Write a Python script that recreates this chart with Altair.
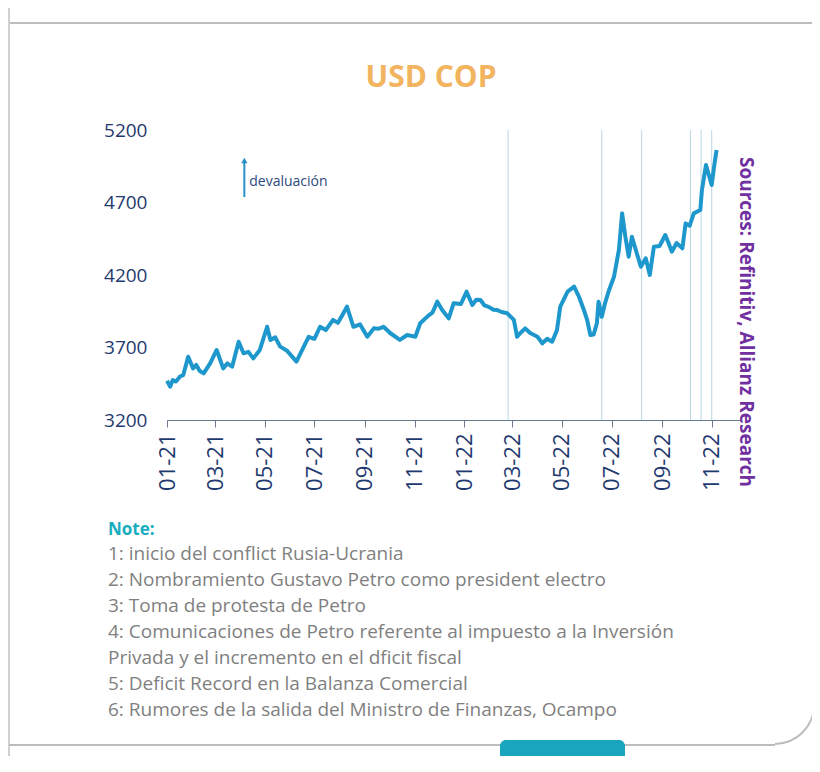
import altair as alt
import pandas as pd

# ---------------- data ----------------
dates = [
    "2021-01-01", "2021-01-05", "2021-01-08", "2021-01-12", "2021-01-17", "2021-01-21",
    "2021-01-27", "2021-02-02", "2021-02-06", "2021-02-10", "2021-02-15", "2021-02-23",
    "2021-03-03", "2021-03-07", "2021-03-11", "2021-03-16", "2021-03-22", "2021-03-30",
    "2021-04-05", "2021-04-11", "2021-04-17", "2021-04-25", "2021-05-04", "2021-05-08",
    "2021-05-14", "2021-05-20", "2021-05-28", "2021-06-09", "2021-06-18", "2021-06-24",
    "2021-07-01", "2021-07-08", "2021-07-15", "2021-07-24", "2021-07-30", "2021-08-05",
    "2021-08-10", "2021-08-18", "2021-08-26", "2021-09-04", "2021-09-12", "2021-09-18",
    "2021-09-24", "2021-10-02", "2021-10-14", "2021-10-23", "2021-11-02", "2021-11-08",
    "2021-11-18", "2021-11-23", "2021-11-29", "2021-12-05", "2021-12-13", "2021-12-19",
    "2021-12-28", "2022-01-04", "2022-01-11", "2022-01-16", "2022-01-21", "2022-01-26",
    "2022-01-31", "2022-02-06", "2022-02-10", "2022-02-16", "2022-02-23", "2022-03-03",
    "2022-03-07", "2022-03-11", "2022-03-17", "2022-03-23", "2022-04-01", "2022-04-07",
    "2022-04-13", "2022-04-19", "2022-04-25", "2022-04-29", "2022-05-08", "2022-05-16",
    "2022-05-22", "2022-05-28", "2022-06-01", "2022-06-05", "2022-06-09", "2022-06-13",
    "2022-06-15", "2022-06-19", "2022-06-23", "2022-06-28", "2022-07-04", "2022-07-10",
    "2022-07-14", "2022-07-18", "2022-07-22", "2022-07-26", "2022-08-01", "2022-08-06",
    "2022-08-12", "2022-08-17", "2022-08-22", "2022-08-29", "2022-09-05", "2022-09-09",
    "2022-09-13", "2022-09-19", "2022-09-26", "2022-09-30", "2022-10-05", "2022-10-10",
    "2022-10-18", "2022-10-20", "2022-10-25", "2022-10-28", "2022-11-01", "2022-11-04",
    "2022-11-07",
]
usdcop = [
    3470, 3430, 3475, 3465, 3500, 3510,
    3636, 3556, 3580, 3540, 3522, 3591,
    3683, 3620, 3556, 3590, 3568, 3740,
    3660, 3670, 3625, 3683, 3843, 3752,
    3770, 3706, 3680, 3603, 3706, 3774,
    3760, 3843, 3820, 3890, 3870, 3930,
    3982, 3843, 3860, 3774, 3832, 3830,
    3843, 3800, 3752, 3786, 3774, 3867,
    3920, 3940, 4016, 3959, 3901, 4005,
    4000, 4085, 3993, 4030, 4028, 3990,
    3980, 3960, 3959, 3945, 3936, 3890,
    3774, 3800, 3832, 3800, 3774, 3729,
    3760, 3740, 3820, 3982, 4085, 4120,
    4050, 3959, 3890, 3786, 3790, 3867,
    4016, 3912, 4005, 4097, 4188, 4372,
    4625, 4464, 4326, 4464, 4350, 4257,
    4315, 4200, 4395, 4400, 4476, 4420,
    4361, 4420, 4384, 4556, 4540, 4625,
    4648, 4786, 4959, 4900, 4821, 4950,
    5062,
]
event_dates = ["2022-02-24", "2022-06-19", "2022-08-07", "2022-10-06", "2022-10-19", "2022-11-01"]
tick_months = [(2021, 1), (2021, 3), (2021, 5), (2021, 7), (2021, 9), (2021, 11),
               (2022, 1), (2022, 3), (2022, 5), (2022, 7), (2022, 9), (2022, 11)]
y_ticks = [3200, 3700, 4200, 4700, 5200]
y_domain = [3200, 5200]
x_domain = [(2021, 1, 1), (2022, 12, 7)]
title_text = "USD COP"
source_text = "Sources: Refinitiv, Allianz Research"
arrow_date = ["2021-04-06"]
arrow_from = [4738]
arrow_to = [4990]
arrow_label = "devaluación"
arrow_label_date = ["2021-04-12"]
arrow_label_value = [4840]
note_title = "Note:"
notes = [
    "1: inicio del conflict Rusia-Ucrania",
    "2: Nombramiento Gustavo Petro como president electro",
    "3: Toma de protesta de Petro",
    "4: Comunicaciones de Petro referente al impuesto a la Inversión",
    "Privada y el incremento en el dficit fiscal",
    "5: Deficit Record en la Balanza Comercial",
    "6: Rumores de la salida del Ministro de Finanzas, Ocampo",
]

# ---------------- tables ----------------
df = pd.DataFrame({"date": pd.to_datetime(dates), "usdcop": usdcop})
ev = pd.DataFrame({"date": pd.to_datetime(event_dates)})
arrow_df = pd.DataFrame({"date": pd.to_datetime(arrow_date), "y0": arrow_from, "y1": arrow_to})
label_df = pd.DataFrame({"date": pd.to_datetime(arrow_label_date), "v": arrow_label_value,
                         "t": [arrow_label]})
one = pd.DataFrame({"k": [0]})

FONT = "Open Sans"
NAVY = "#1F3A6E"
LINE = "#1E98CC"

x_scale = alt.Scale(domain=[alt.DateTime(year=a, month=b, date=c) for a, b, c in x_domain])
y_scale = alt.Scale(domain=y_domain, nice=False, zero=False)

x_axis = alt.Axis(
    values=[alt.DateTime(year=a, month=b, date=1) for a, b in tick_months],
    format="%m-%y", labelAngle=-90, labelAlign="right", labelBaseline="middle",
    labelPadding=6, tickSize=7, tickColor="#6A7A8E", domainColor="#6A7A8E",
    domainWidth=1.2, labelFontSize=22, labelFont=FONT, labelColor=NAVY,
    title=None, grid=False, labelFlush=False, labelOverlap=False,
)
y_axis = alt.Axis(
    values=y_ticks, format="d", title=None, grid=False, domain=False, ticks=False,
    labelPadding=20, labelFontSize=19, labelFont=FONT, labelColor=NAVY,
)

base_x = alt.X("date:T", scale=x_scale, axis=x_axis)

events = alt.Chart(ev).mark_rule(color="#B9D7E2", strokeWidth=1).encode(
    x=alt.X("date:T", scale=x_scale),
    y=alt.value(0), y2=alt.value(290),
)

line = alt.Chart(df).mark_line(color=LINE, strokeWidth=4, strokeJoin="round").encode(
    x=base_x,
    y=alt.Y("usdcop:Q", scale=y_scale, axis=y_axis),
)

arrow = alt.Chart(arrow_df).mark_rule(color="#2A8FC7", strokeWidth=2).encode(
    x=alt.X("date:T", scale=x_scale),
    y=alt.Y("y0:Q", scale=y_scale),
    y2="y1:Q",
)
arrow_head = alt.Chart(arrow_df).mark_point(
    shape="triangle-up", filled=True, color="#2A8FC7", size=40, opacity=1
).encode(
    x=alt.X("date:T", scale=x_scale),
    y=alt.Y("y1:Q", scale=y_scale),
)
arrow_text = alt.Chart(label_df).mark_text(
    align="left", baseline="middle", font=FONT, fontSize=14, color="#2E4A7D"
).encode(
    x=alt.X("date:T", scale=x_scale),
    y=alt.Y("v:Q", scale=y_scale),
    text="t:N",
)

title = alt.Chart(one).mark_text(
    font=FONT, fontSize=30, fontWeight="bold", color="#F2B45E", align="center", baseline="middle"
).encode(x=alt.value(264), y=alt.value(-52), text=alt.value(title_text))

source = alt.Chart(one).mark_text(
    font=FONT, fontSize=19, fontWeight="bold", color="#7030A0", angle=90,
    align="center", baseline="middle",
).encode(x=alt.value(579), y=alt.value(192), text=alt.value(source_text))

note_head = alt.Chart(one).mark_text(
    font=FONT, fontSize=17, fontWeight="bold", color="#19ADC0", align="left", baseline="middle"
).encode(x=alt.value(-59), y=alt.value(400), text=alt.value(note_title))

note_body = alt.Chart(one).mark_text(
    font=FONT, fontSize=19, color="#7F7F7F", align="left", baseline="alphabetic",
    lineBreak="\n", lineHeight=26,
).encode(x=alt.value(-59), y=alt.value(430), text=alt.value("\n".join(notes)))

# decorative card frame
frame_top = alt.Chart(one).mark_rule(color="#BDBDBD", strokeWidth=2).encode(
    x=alt.value(-159), x2=alt.value(660), y=alt.value(-107))
frame_left = alt.Chart(one).mark_rule(color="#D0D0D0", strokeWidth=2).encode(
    x=alt.value(-158), y=alt.value(-130), y2=alt.value(640))
frame_bottom = alt.Chart(one).mark_rule(color="#BDBDBD", strokeWidth=2).encode(
    x=alt.value(-158), x2=alt.value(608), y=alt.value(615))
frame_corner = alt.Chart(one).mark_arc(
    color="#BDBDBD", theta=1.5708, theta2=3.1416, radius=40, radius2=38
).encode(x=alt.value(608), y=alt.value(575))
tab = alt.Chart(one).mark_rect(color="#1AA5BE", cornerRadius=6).encode(
    x=alt.value(333), x2=alt.value(458), y=alt.value(610), y2=alt.value(650))

chart = alt.layer(
    frame_top, frame_left, frame_bottom, frame_corner, tab,
    events, line, arrow, arrow_head, arrow_text, title, source, note_head, note_body,
).properties(
    width=574, height=290,
    autosize=alt.AutoSizeParams(type="none"),
    padding={"left": 159, "top": 122, "right": 71, "bottom": 336},
    background="white",
).configure_view(stroke=None)

chart.save("out.html", embed_options={"renderer": "svg", "actions": False})
